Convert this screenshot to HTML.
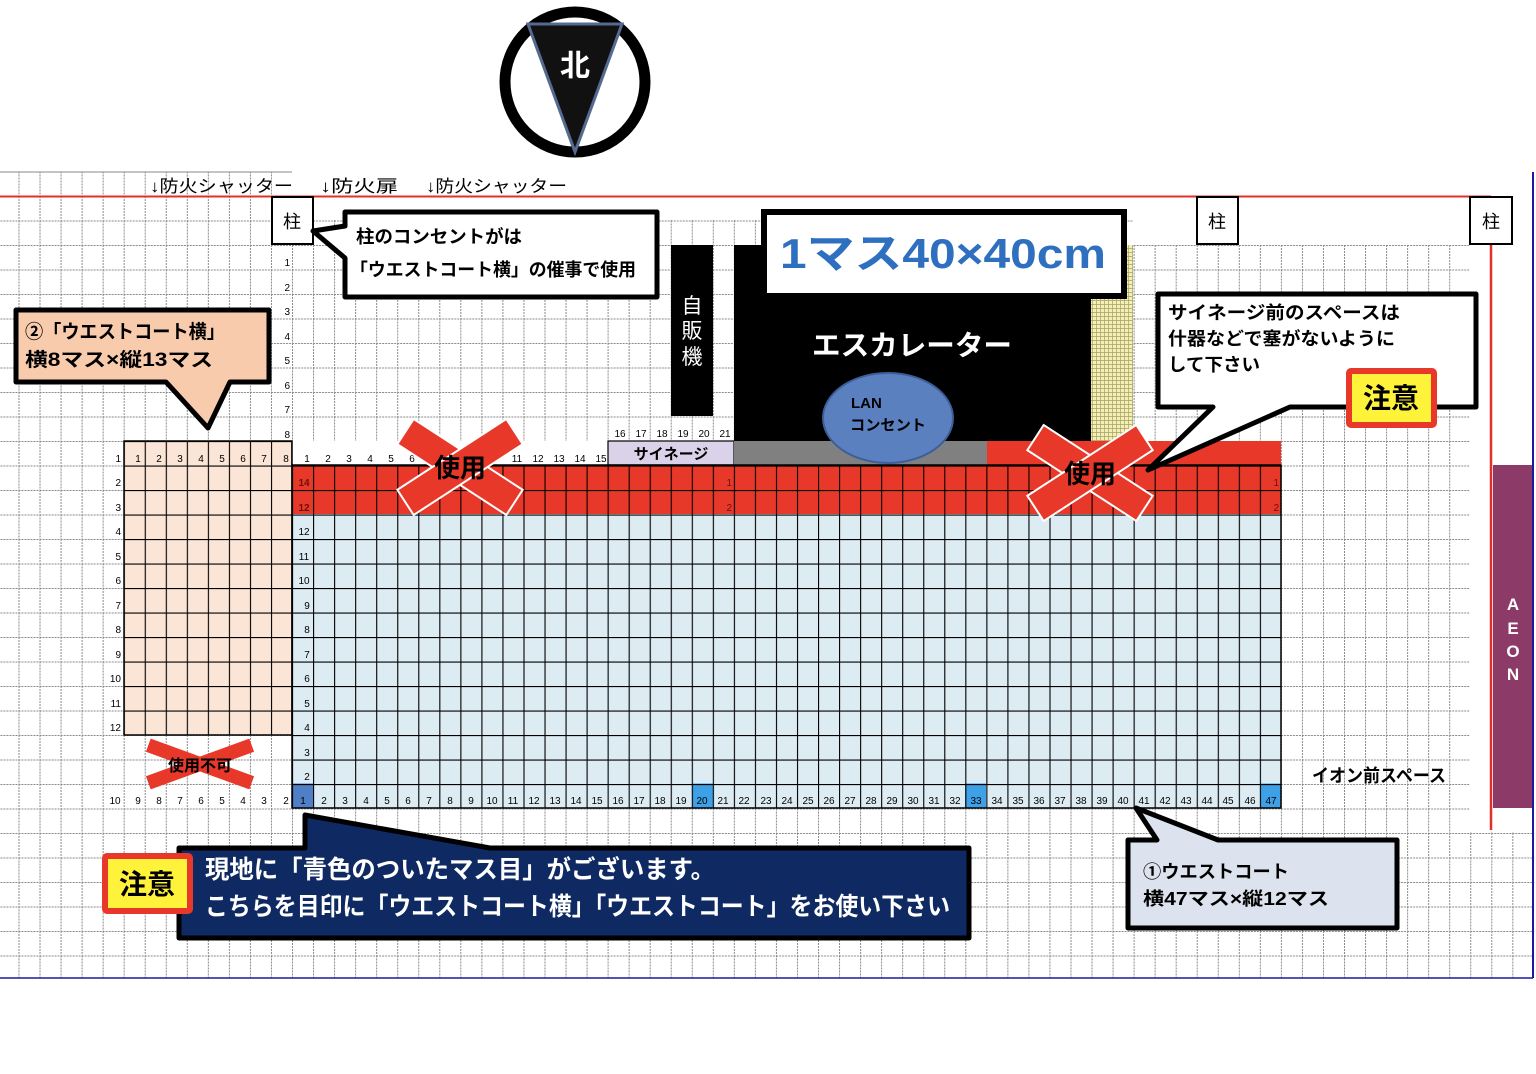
<!DOCTYPE html>
<html><head><meta charset="utf-8"><style>
html,body{margin:0;padding:0;background:#fff;width:1536px;height:1074px;overflow:hidden}
svg{display:block}
text{font-family:"Liberation Sans","Noto Sans CJK JP",sans-serif}
.n{font-size:10px;fill:#000;font-family:"Liberation Sans Narrow","Liberation Sans",sans-serif}
.b{font-weight:bold}
</style></head><body>
<svg width="1536" height="1074" viewBox="0 0 1536 1074" xmlns="http://www.w3.org/2000/svg">
<defs>
<pattern id="g" x="292" y="196" width="21.04" height="24.5" patternUnits="userSpaceOnUse">
<path d="M0.5 0V24.5M0 0.5H21.04" stroke="#8a8a8a" stroke-width="1" stroke-dasharray="2 1" fill="none"/>
</pattern>
<pattern id="k" x="292" y="196" width="21.04" height="24.5" patternUnits="userSpaceOnUse">
<path d="M0.5 0V24.5M0 0.5H21.04" stroke="#000" stroke-width="1.2" fill="none"/>
</pattern>
<pattern id="y" x="0" y="0" width="4" height="4" patternUnits="userSpaceOnUse">
<rect width="4" height="4" fill="#f2efb8"/><path d="M0.5 0V4M0 0.5H4" stroke="#a8a060" stroke-width="0.7"/>
</pattern>
</defs>

<rect x="0" y="172" width="292" height="806" fill="url(#g)"/>
<rect x="292" y="220" width="1178" height="758" fill="url(#g)"/>
<rect x="1470" y="832" width="62" height="146" fill="url(#g)"/>
<line x1="0" y1="172" x2="292" y2="172" stroke="#888" stroke-width="1"/>
<rect x="292" y="196" width="1200" height="24" fill="#fff"/>
<rect x="1133" y="196" width="340" height="49" fill="#fff"/>
<line x1="0" y1="196.5" x2="1491" y2="196.5" stroke="#e0302a" stroke-width="2"/>
<line x1="1491" y1="220" x2="1491" y2="830" stroke="#e0302a" stroke-width="2.5"/>
<line x1="1533" y1="172" x2="1533" y2="978" stroke="#1a1aa0" stroke-width="2"/>
<line x1="0" y1="978" x2="1533" y2="978" stroke="#1a1aa0" stroke-width="1.5"/>
<rect x="1493" y="465" width="39" height="343" fill="#8c3a68"/>
<text x="1513" y="610" font-size="17" fill="#fff" class="b" text-anchor="middle">A</text>
<text x="1513" y="634" font-size="17" fill="#fff" class="b" text-anchor="middle">E</text>
<text x="1513" y="657" font-size="17" fill="#fff" class="b" text-anchor="middle">O</text>
<text x="1513" y="680" font-size="17" fill="#fff" class="b" text-anchor="middle">N</text>

<text x="150" y="192" font-size="17" textLength="143" lengthAdjust="spacingAndGlyphs">↓防火シャッター</text>
<text x="320" y="192" font-size="17" textLength="78" lengthAdjust="spacingAndGlyphs">↓防火扉</text>
<text x="426" y="192" font-size="17" textLength="141" lengthAdjust="spacingAndGlyphs">↓防火シャッター</text>

<rect x="272" y="197" width="41" height="47" fill="#fff" stroke="#000" stroke-width="2"/>
<text x="292" y="228" font-size="18" text-anchor="middle">柱</text>
<rect x="1197" y="197" width="41" height="47" fill="#fff" stroke="#000" stroke-width="2"/>
<text x="1217" y="228" font-size="18" text-anchor="middle">柱</text>
<rect x="1470" y="197" width="42" height="47" fill="#fff" stroke="#000" stroke-width="2"/>
<text x="1491" y="228" font-size="18" text-anchor="middle">柱</text>

<text class="n" text-anchor="end"><tspan x="290" y="266">1</tspan><tspan x="290" y="291">2</tspan><tspan x="290" y="315">3</tspan><tspan x="290" y="340">4</tspan><tspan x="290" y="364">5</tspan><tspan x="290" y="389">6</tspan><tspan x="290" y="413">7</tspan><tspan x="290" y="438">8</tspan></text>

<rect x="124" y="441" width="168" height="294" fill="#fbe5d6"/>
<rect x="124" y="441" width="168" height="294" fill="url(#k)"/>
<rect x="124" y="441" width="168" height="294" fill="none" stroke="#000" stroke-width="1.5"/>
<text class="n" text-anchor="end"><tspan x="121" y="462">1</tspan><tspan x="121" y="486">2</tspan><tspan x="121" y="511">3</tspan><tspan x="121" y="535">4</tspan><tspan x="121" y="560">5</tspan><tspan x="121" y="584">6</tspan><tspan x="121" y="609">7</tspan><tspan x="121" y="633">8</tspan><tspan x="121" y="658">9</tspan><tspan x="121" y="682">10</tspan><tspan x="121" y="707">11</tspan><tspan x="121" y="731">12</tspan></text>
<text class="n" text-anchor="middle"><tspan x="138" y="462">1</tspan><tspan x="159" y="462">2</tspan><tspan x="180" y="462">3</tspan><tspan x="201" y="462">4</tspan><tspan x="222" y="462">5</tspan><tspan x="243" y="462">6</tspan><tspan x="264" y="462">7</tspan><tspan x="286" y="462">8</tspan></text>
<text class="n" text-anchor="middle"><tspan x="115" y="804">10</tspan><tspan x="138" y="804">9</tspan><tspan x="159" y="804">8</tspan><tspan x="180" y="804">7</tspan><tspan x="201" y="804">6</tspan><tspan x="222" y="804">5</tspan><tspan x="243" y="804">4</tspan><tspan x="264" y="804">3</tspan><tspan x="286" y="804">2</tspan></text>

<rect x="292" y="441" width="316" height="24" fill="#fff"/>
<rect x="608" y="441" width="126" height="24" fill="#d9d2e9" stroke="#000" stroke-width="1.2"/>
<text x="671" y="459" font-size="15" class="b" text-anchor="middle">サイネージ</text>
<rect x="734" y="441" width="253" height="24" fill="#808080"/>
<rect x="987" y="441" width="294" height="24" fill="#e8382a"/>
<rect x="292" y="465" width="989" height="49" fill="#e8382a"/>
<rect x="292" y="514" width="989" height="294" fill="#ddebf3"/>
<rect x="292" y="783.5" width="21" height="24.5" fill="#4f7fc6"/>
<rect x="692" y="783.5" width="21" height="24.5" fill="#3ea0e6"/>
<rect x="965" y="783.5" width="21" height="24.5" fill="#3ea0e6"/>
<rect x="1260" y="783.5" width="21" height="24.5" fill="#3ea0e6"/>
<rect x="292" y="465" width="989" height="343" fill="url(#k)"/>
<rect x="292" y="465" width="989" height="343" fill="none" stroke="#000" stroke-width="1.5"/>
<line x1="292" y1="441" x2="292" y2="465" stroke="#000" stroke-width="1.5"/>
<text class="n" text-anchor="middle"><tspan x="307" y="462">1</tspan><tspan x="328" y="462">2</tspan><tspan x="349" y="462">3</tspan><tspan x="370" y="462">4</tspan><tspan x="391" y="462">5</tspan><tspan x="412" y="462">6</tspan><tspan x="517" y="462">11</tspan><tspan x="538" y="462">12</tspan><tspan x="559" y="462">13</tspan><tspan x="580" y="462">14</tspan><tspan x="601" y="462">15</tspan></text>
<text class="n" text-anchor="middle"><tspan x="620" y="437">16</tspan><tspan x="641" y="437">17</tspan><tspan x="662" y="437">18</tspan><tspan x="683" y="437">19</tspan><tspan x="704" y="437">20</tspan><tspan x="725" y="437">21</tspan></text>
<text class="n b" text-anchor="middle" style="fill:#6b1008"><tspan x="304" y="486">14</tspan><tspan x="304" y="511">12</tspan></text>
<text class="n" text-anchor="end" style="fill:#6b1008"><tspan x="732" y="486">1</tspan><tspan x="732" y="511">2</tspan><tspan x="1279" y="486">1</tspan><tspan x="1279" y="511">2</tspan></text>
<text class="n" text-anchor="middle"><tspan x="304" y="535">12</tspan><tspan x="304" y="560">11</tspan><tspan x="304" y="584">10</tspan><tspan x="307" y="609">9</tspan><tspan x="307" y="633">8</tspan><tspan x="307" y="658">7</tspan><tspan x="307" y="682">6</tspan><tspan x="307" y="707">5</tspan><tspan x="307" y="731">4</tspan><tspan x="307" y="756">3</tspan><tspan x="307" y="780">2</tspan></text>
<text class="n" text-anchor="middle"><tspan x="303" y="804">1</tspan><tspan x="324" y="804">2</tspan><tspan x="345" y="804">3</tspan><tspan x="366" y="804">4</tspan><tspan x="387" y="804">5</tspan><tspan x="408" y="804">6</tspan><tspan x="429" y="804">7</tspan><tspan x="450" y="804">8</tspan><tspan x="471" y="804">9</tspan><tspan x="492" y="804">10</tspan><tspan x="513" y="804">11</tspan><tspan x="534" y="804">12</tspan><tspan x="555" y="804">13</tspan><tspan x="576" y="804">14</tspan><tspan x="597" y="804">15</tspan><tspan x="618" y="804">16</tspan><tspan x="639" y="804">17</tspan><tspan x="660" y="804">18</tspan><tspan x="681" y="804">19</tspan><tspan x="702" y="804">20</tspan><tspan x="723" y="804">21</tspan><tspan x="744" y="804">22</tspan><tspan x="766" y="804">23</tspan><tspan x="787" y="804">24</tspan><tspan x="808" y="804">25</tspan><tspan x="829" y="804">26</tspan><tspan x="850" y="804">27</tspan><tspan x="871" y="804">28</tspan><tspan x="892" y="804">29</tspan><tspan x="913" y="804">30</tspan><tspan x="934" y="804">31</tspan><tspan x="955" y="804">32</tspan><tspan x="976" y="804">33</tspan><tspan x="997" y="804">34</tspan><tspan x="1018" y="804">35</tspan><tspan x="1039" y="804">36</tspan><tspan x="1060" y="804">37</tspan><tspan x="1081" y="804">38</tspan><tspan x="1102" y="804">39</tspan><tspan x="1123" y="804">40</tspan><tspan x="1144" y="804">41</tspan><tspan x="1165" y="804">42</tspan><tspan x="1186" y="804">43</tspan><tspan x="1207" y="804">44</tspan><tspan x="1228" y="804">45</tspan><tspan x="1250" y="804">46</tspan><tspan x="1271" y="804">47</tspan></text>

<rect x="671" y="245" width="42" height="171" fill="#000"/>
<text x="692" y="313" font-size="21" fill="#fff" text-anchor="middle">自</text>
<text x="692" y="338" font-size="21" fill="#fff" text-anchor="middle">販</text>
<text x="692" y="364" font-size="21" fill="#fff" text-anchor="middle">機</text>

<rect x="734" y="245" width="357" height="196" fill="#000"/>
<rect x="1091" y="245" width="42" height="196" fill="url(#y)"/>
<text x="812" y="355" font-size="28" fill="#fff" class="b" textLength="200" lengthAdjust="spacingAndGlyphs">エスカレーター</text>
<ellipse cx="888" cy="418" rx="65" ry="45" fill="#5b80c0" stroke="#3e5e9a" stroke-width="2"/>
<text x="851" y="408" font-size="15" class="b">LAN</text>
<text x="850" y="430" font-size="15" class="b" textLength="76" lengthAdjust="spacingAndGlyphs">コンセント</text>
<rect x="764" y="212" width="360" height="84" fill="#fff" stroke="#000" stroke-width="6"/>
<text x="780" y="268" font-size="42" class="b" fill="#2e6fc0" textLength="326" lengthAdjust="spacingAndGlyphs">1マス40×40cm</text>

<path d="M345,212 H657 V297 H345 V258 L313,231 L345,226 Z" fill="#fff" stroke="#000" stroke-width="5" stroke-linejoin="round"/>
<text x="356" y="243" font-size="18" class="b" textLength="166" lengthAdjust="spacingAndGlyphs">柱のコンセントがは</text>
<text x="350" y="276" font-size="18" class="b" textLength="286" lengthAdjust="spacingAndGlyphs">「ウエストコート横」の催事で使用</text>

<path d="M16,310 H269 V382 H230 L208,428 L166,382 H16 Z" fill="#f8cbad" stroke="#000" stroke-width="5" stroke-linejoin="round"/>
<text x="25" y="338" font-size="19" class="b" textLength="200" lengthAdjust="spacingAndGlyphs">②「ウエストコート横」</text>
<text x="25" y="366" font-size="19" class="b" textLength="188" lengthAdjust="spacingAndGlyphs">横8マス×縦13マス</text>

<path d="M1158,294 H1476 V407 H1290 L1148,470 L1213,407 H1158 Z" fill="#fff" stroke="#000" stroke-width="5" stroke-linejoin="round"/>
<text x="1168" y="319" font-size="18" class="b" textLength="232" lengthAdjust="spacingAndGlyphs">サイネージ前のスペースは</text>
<text x="1168" y="345" font-size="18" class="b" textLength="227" lengthAdjust="spacingAndGlyphs">什器などで塞がないように</text>
<text x="1168" y="371" font-size="18" class="b" textLength="92" lengthAdjust="spacingAndGlyphs">して下さい</text>
<rect x="1349" y="371" width="85" height="54" fill="#fff23a" stroke="#e8382a" stroke-width="6" rx="2"/>
<text x="1391" y="408" font-size="28" class="b" text-anchor="middle">注意</text>

<g transform="translate(460,467)">
<rect x="-65" y="-15" width="130" height="30" fill="#e8382a" stroke="#fff" stroke-width="2" transform="rotate(33)"/>
<rect x="-65" y="-15" width="130" height="30" fill="#e8382a" stroke="#fff" stroke-width="2" transform="rotate(-33)"/>
<text x="0" y="10" font-size="26" class="b" text-anchor="middle">使用</text>
</g>
<g transform="translate(1090,473)">
<rect x="-65" y="-15" width="130" height="30" fill="#e8382a" stroke="#fff" stroke-width="2" transform="rotate(33)"/>
<rect x="-65" y="-15" width="130" height="30" fill="#e8382a" stroke="#fff" stroke-width="2" transform="rotate(-33)"/>
<text x="0" y="10" font-size="26" class="b" text-anchor="middle">使用</text>
</g>
<g transform="translate(200,764)">
<rect x="-55" y="-7" width="110" height="14" fill="#e8382a" transform="rotate(20)"/>
<rect x="-55" y="-7" width="110" height="14" fill="#e8382a" transform="rotate(-20)"/>
<text x="0" y="7" font-size="16" class="b" text-anchor="middle">使用不可</text>
</g>

<text x="1312" y="782" font-size="18" class="b" textLength="134" lengthAdjust="spacingAndGlyphs">イオン前スペース</text>

<path d="M179,848 H305 V815 L490,848 H969 V938 H179 Z" fill="#0f2a62" stroke="#000" stroke-width="5" stroke-linejoin="round"/>
<text x="205" y="878" font-size="25" fill="#fff" class="b" textLength="510" lengthAdjust="spacingAndGlyphs">現地に「青色のついたマス目」がございます。</text>
<text x="205" y="915" font-size="25" fill="#fff" class="b" textLength="745" lengthAdjust="spacingAndGlyphs">こちらを目印に「ウエストコート横」「ウエストコート」をお使い下さい</text>
<rect x="105" y="856" width="85" height="55" fill="#fff23a" stroke="#e8382a" stroke-width="6" rx="2"/>
<text x="147" y="894" font-size="28" class="b" text-anchor="middle">注意</text>

<path d="M1128,840 H1157 L1136,808 L1218,840 H1397 V928 H1128 Z" fill="#dde3ee" stroke="#000" stroke-width="5" stroke-linejoin="round"/>
<text x="1143" y="878" font-size="18" class="b" textLength="146" lengthAdjust="spacingAndGlyphs">①ウエストコート</text>
<text x="1143" y="905" font-size="18" class="b" textLength="186" lengthAdjust="spacingAndGlyphs">横47マス×縦12マス</text>

<circle cx="575" cy="82" r="70" fill="#fff" stroke="#000" stroke-width="11"/>
<polygon points="528,24 622,24 575,152" fill="#111" stroke="#556a90" stroke-width="3"/>
<text x="575" y="76" font-size="30" fill="#fff" class="b" text-anchor="middle">北</text>
</svg>
</body></html>
